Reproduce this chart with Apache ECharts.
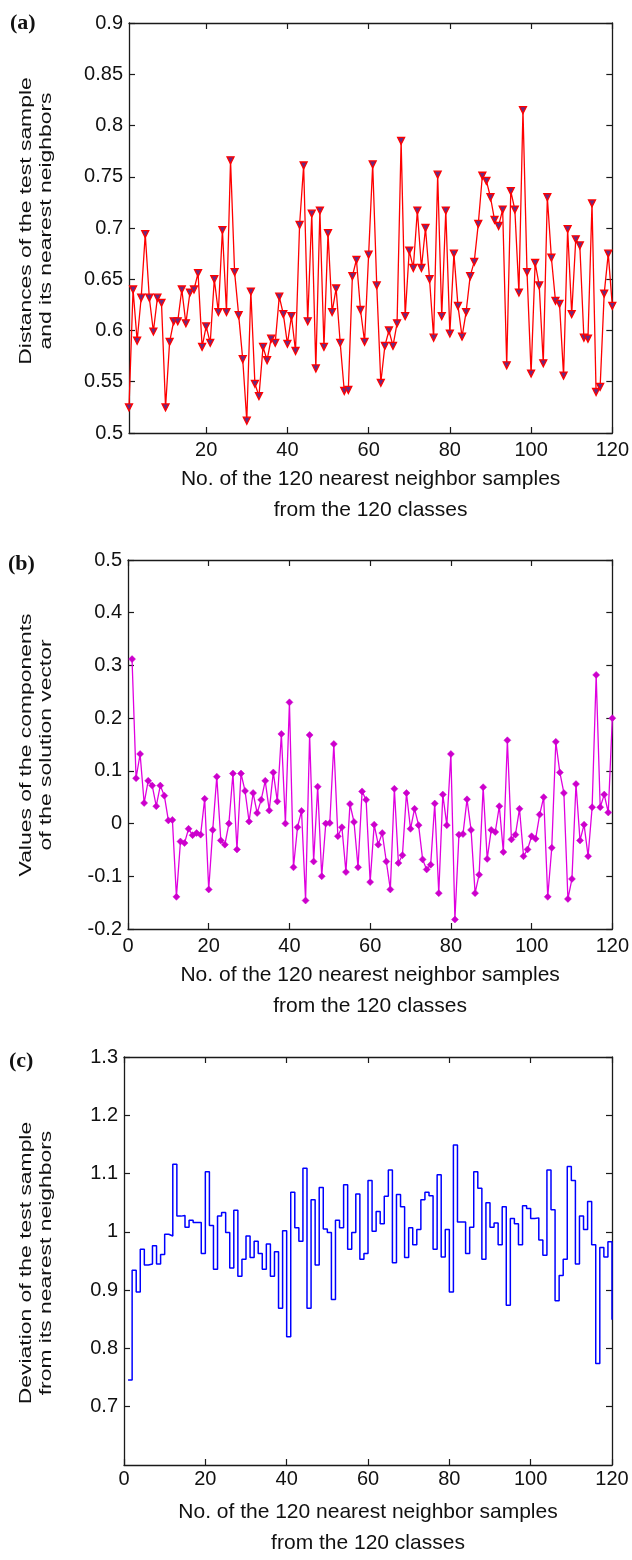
<!DOCTYPE html>
<html><head><meta charset="utf-8">
<script src="https://cdn.jsdelivr.net/npm/echarts@6/dist/echarts.min.js"></script>
<style>html,body{margin:0;padding:0;background:#fff}#chart{width:632px;height:1560px}</style>
</head><body><div id="chart"></div>
<script>
// ---------------- data ----------------
const sampleNo = Array.from({length:120}, (_, k) => k + 1);

const distances = [
0.525,0.640,0.590,0.632,0.694,0.632,0.599,0.632,0.627,0.525,
0.589,0.609,0.609,0.640,0.607,0.637,0.640,0.656,0.584,0.604,
0.588,0.650,0.618,0.698,0.618,0.766,0.657,0.615,0.572,0.512,
0.638,0.548,0.536,0.584,0.571,0.592,0.588,0.633,0.616,0.587,
0.614,0.580,0.703,0.761,0.609,0.714,0.563,0.717,0.584,0.695,
0.618,0.641,0.588,0.541,0.542,0.653,0.669,0.620,0.589,0.674,
0.762,0.644,0.549,0.585,0.600,0.585,0.607,0.785,0.614,0.678,
0.661,0.717,0.661,0.700,0.650,0.593,0.752,0.614,0.717,0.597,
0.675,0.624,0.594,0.618,0.653,0.667,0.704,0.751,0.746,0.730,
0.708,0.702,0.718,0.566,0.736,0.718,0.637,0.815,0.657,0.558,
0.666,0.644,0.568,0.730,0.671,0.629,0.626,0.556,0.699,0.616,
0.689,0.683,0.593,0.592,0.724,0.540,0.545,0.636,0.675,0.624];

const solution = [
0.312,0.086,0.132,0.039,0.081,0.072,0.033,0.072,0.053,0.006,
0.007,-0.139,-0.034,-0.037,-0.010,-0.022,-0.018,-0.021,0.047,-0.125,
-0.012,0.089,-0.032,-0.040,0.000,0.095,-0.049,0.095,0.062,0.004,
0.058,0.020,0.045,0.081,0.025,0.097,0.042,0.170,0.000,0.230,
-0.083,-0.007,0.024,-0.146,0.168,-0.072,0.070,-0.100,0.000,0.001,
0.151,-0.024,-0.007,-0.092,0.037,0.003,-0.083,0.061,0.045,-0.111,
-0.002,-0.040,-0.018,-0.072,-0.125,0.066,-0.075,-0.060,0.058,-0.010,
0.028,-0.003,-0.068,-0.087,-0.078,0.038,-0.132,0.055,-0.003,0.132,
-0.182,-0.021,-0.020,0.046,-0.012,-0.132,-0.097,0.069,-0.067,-0.012,
-0.016,0.033,-0.054,0.158,-0.030,-0.021,0.028,-0.062,-0.049,-0.024,
-0.029,0.017,0.050,-0.139,-0.046,0.155,0.097,0.058,-0.143,-0.105,
0.075,-0.032,-0.002,-0.062,0.031,0.282,0.031,0.055,0.021,0.200];

const deviation = [
0.746,0.934,0.897,0.970,0.943,0.945,0.976,0.945,0.961,0.996,
0.993,1.116,1.027,1.028,1.008,1.020,1.016,1.016,0.963,1.103,
1.011,0.936,1.027,1.033,0.999,0.938,1.037,0.924,0.953,0.993,
0.956,0.984,0.963,0.936,0.979,0.924,0.966,0.869,1.002,0.820,
1.068,1.007,0.984,1.109,0.869,1.055,0.943,1.076,1.005,0.999,
0.884,1.020,1.007,1.081,0.970,0.999,1.065,0.953,0.963,1.088,
1.001,1.035,1.014,1.061,1.106,0.947,1.064,1.043,0.956,1.007,
0.978,1.004,1.055,1.068,1.062,0.970,1.098,0.957,1.004,0.897,
1.149,1.017,1.017,0.963,1.008,1.103,1.075,0.953,1.050,1.008,
1.015,0.978,1.043,0.874,1.023,1.014,0.978,1.045,1.040,1.023,
1.024,0.986,0.960,1.106,1.038,0.882,0.925,0.953,1.112,1.088,
0.945,1.027,1.004,1.052,0.978,0.774,0.973,0.957,0.983,0.849];

const xTicksA  = [20, 40, 60, 80, 100, 120];
const xTicksBC = [0, 20, 40, 60, 80, 100, 120];
const yTicksA  = [0.5, 0.55, 0.6, 0.65, 0.7, 0.75, 0.8, 0.85, 0.9];
const yTicksB  = [-0.2, -0.1, 0, 0.1, 0.2, 0.3, 0.4, 0.5];
const yTicksC  = [0.7, 0.8, 0.9, 1, 1.1, 1.2, 1.3];

const xTitle  = 'No. of the 120 nearest neighbor samples\nfrom the 120 classes';
const yTitleA = 'Distances of the test sample\nand its nearest neighbors';
const yTitleB = 'Values of the components\nof the solution vector';
const yTitleC = 'Deviation of the test sample\nfrom its nearest neighbors';
const panelLabels = ['(a)', '(b)', '(c)'];

// ---------------- styling helpers ----------------
const AX = '#1a1a1a', TXT = '#111', FONT = '"Liberation Sans", Arial, sans-serif';

function bottomX(gi, min, max, ticks, margin, nameGap) {
  return {
    type: 'value', gridIndex: gi, min: min, max: max, position: 'bottom',
    axisLine: {show: true, onZero: false, lineStyle: {color: AX, width: 1.3}},
    axisTick: {show: true, inside: true, length: 6, customValues: ticks, lineStyle: {color: AX, width: 1.2}},
    axisLabel: {show: true, customValues: ticks, margin: margin, color: TXT, fontSize: 20, fontFamily: FONT},
    splitLine: {show: false},
    name: xTitle, nameLocation: 'middle', nameGap: nameGap,
    nameTextStyle: {fontSize: 21, lineHeight: 31, color: TXT, fontFamily: FONT}
  };
}
function topX(gi, min, max, ticks) {
  return {
    type: 'value', gridIndex: gi, min: min, max: max, position: 'top',
    axisLine: {show: true, onZero: false, lineStyle: {color: AX, width: 1.3}},
    axisTick: {show: true, inside: true, length: 6, customValues: ticks, lineStyle: {color: AX, width: 1.2}},
    axisLabel: {show: false}, splitLine: {show: false}
  };
}
function leftY(gi, min, max, ticks, labels) {
  return {
    type: 'value', gridIndex: gi, min: min, max: max, position: 'left',
    axisLine: {show: true, onZero: false, lineStyle: {color: AX, width: 1.3}},
    axisTick: {show: true, inside: true, length: 6, customValues: ticks, lineStyle: {color: AX, width: 1.2}},
    axisLabel: {show: true, customValues: labels, margin: 6, color: TXT, fontSize: 20, fontFamily: FONT},
    splitLine: {show: false}
  };
}
function rightY(gi, min, max, ticks) {
  return {
    type: 'value', gridIndex: gi, min: min, max: max, position: 'right',
    axisLine: {show: true, onZero: false, lineStyle: {color: AX, width: 1.3}},
    axisTick: {show: true, inside: true, length: 6, customValues: ticks, lineStyle: {color: AX, width: 1.2}},
    axisLabel: {show: false}, splitLine: {show: false}
  };
}
function yTitle(text, cx, cy) {
  return {
    type: 'text', x: cx, y: cy, rotation: Math.PI / 2, scaleX: 1.43, scaleY: 1,
    style: {text: text, fontSize: 16, fontFamily: FONT, fill: TXT, lineHeight: 20,
            align: 'center', verticalAlign: 'middle', textAlign: 'center', textVerticalAlign: 'middle'}
  };
}
function panelLabel(text, lx, ty) {
  return {
    type: 'text', x: lx, y: ty,
    style: {text: text, fontSize: 22, fontWeight: 'bold', fontFamily: '"Liberation Serif", "Times New Roman", serif', fill: TXT}
  };
}

const chart = echarts.init(document.getElementById('chart'), null, {renderer: 'canvas'});
chart.setOption({
  animation: false,
  backgroundColor: '#ffffff',
  grid: [
    {left: 129, top: 23, width: 486, height: 410},
    {left: 128, top: 560, width: 488, height: 369},
    {left: 124, top: 1057, width: 488, height: 412}
  ],
  xAxis: [
    bottomX(0, 1, 120, xTicksA, 7, 31), topX(0, 1, 120, xTicksA),
    bottomX(1, 0, 120, xTicksBC, 7, 31), topX(1, 0, 120, xTicksBC),
    bottomX(2, 0, 120, xTicksBC, 4, 32), topX(2, 0, 120, xTicksBC)
  ],
  yAxis: [
    leftY(0, 0.5, 0.9, yTicksA, yTicksA), rightY(0, 0.5, 0.9, yTicksA),
    leftY(1, -0.2, 0.5, yTicksB, yTicksB), rightY(1, -0.2, 0.5, yTicksB),
    leftY(2, 0.6, 1.3, yTicksC, yTicksC), rightY(2, 0.6, 1.3, yTicksC)
  ],
  graphic: [
    panelLabel(panelLabels[0], 10, 12),
    panelLabel(panelLabels[1], 8, 553),
    panelLabel(panelLabels[2], 9, 1050),
    yTitle(yTitleA, 37, 221),
    yTitle(yTitleB, 37, 745),
    yTitle(yTitleC, 37, 1263)
  ],
  series: [
    {
      type: 'line', xAxisIndex: 0, yAxisIndex: 0,
      data: sampleNo.map((x, k) => [x, distances[k]]),
      symbol: 'triangle', symbolRotate: 180, symbolSize: 7, showAllSymbol: true,
      lineStyle: {color: '#ff0000', width: 1.3},
      itemStyle: {color: '#6a2a80', borderColor: '#ff0000', borderWidth: 1.3}
    },
    {
      type: 'line', xAxisIndex: 2, yAxisIndex: 2,
      data: sampleNo.map((x, k) => [x, solution[k]]),
      symbol: 'diamond', symbolSize: 7, showAllSymbol: true,
      lineStyle: {color: '#e000e0', width: 1.3},
      itemStyle: {color: '#cc00cc', borderColor: '#cc00cc', borderWidth: 0.5}
    },
    {
      type: 'line', xAxisIndex: 4, yAxisIndex: 4, step: 'end',
      data: sampleNo.map((x, k) => [x, deviation[k]]),
      symbol: 'none',
      lineStyle: {color: '#0000ff', width: 1.5}
    }
  ]
});
</script>
</body></html>
